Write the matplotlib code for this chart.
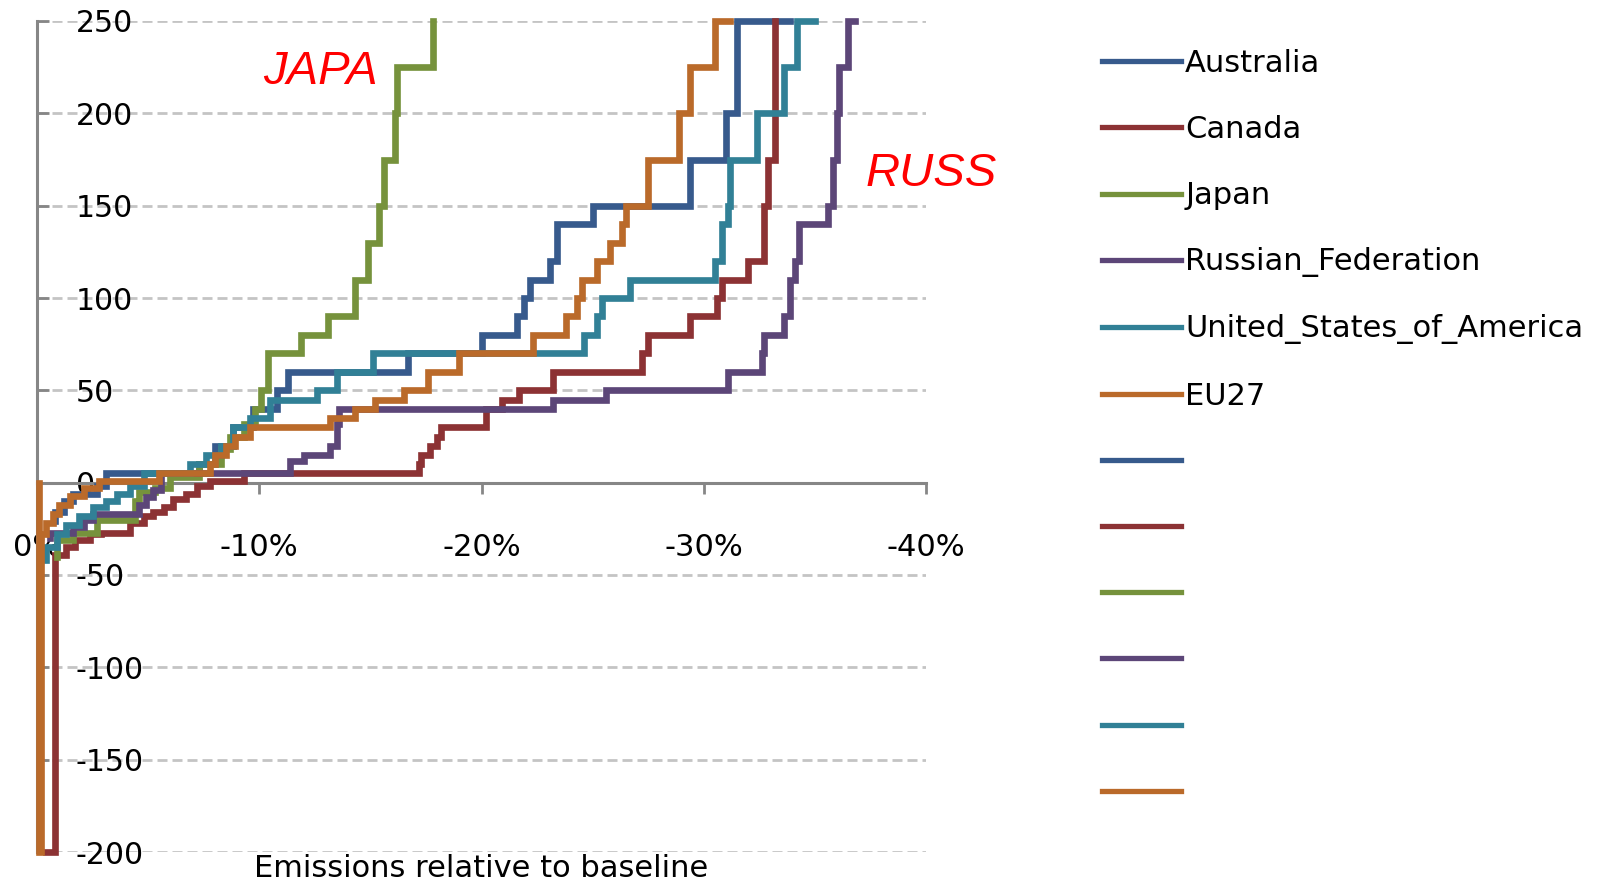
import matplotlib
matplotlib.use('Agg')
import matplotlib.pyplot as plt
from matplotlib.lines import Line2D

plt.rcParams['axes.unicode_minus'] = False
plt.rcParams['font.family'] = ['DejaVu Sans']

countries = ['Australia', 'Canada', 'Japan', 'Russian_Federation',
             'United_States_of_America', 'EU27']
colors = ['#375A8C', '#8C3234', '#76923C', '#5C4678', '#318096', '#BA6A2A']

# emissions relative to baseline (%) vs. price level, one list per country
aus_x = [-0.8, -1.2, -1.6, -2.7, -3.1, -7.3, -8.0, -8.8, -9.7, -10.8, -11.3, -16.7, -20.0,
         -21.6, -21.9, -22.2, -23.1, -23.4, -25.0, -29.4, -31.0, -31.5, -33.9]
aus_y = [-21, -16, -10, -6, -2, 5, 10, 20, 30, 40, 50, 60, 70,
         80, 90, 100, 110, 120, 140, 150, 175, 200, 250]

can_x = [-0.4, -0.8, -1.3, -1.7, -2.4, -2.9, -4.2, -4.8, -5.2, -5.7, -6.1, -6.7, -7.2, -7.8,
         -9.3, -17.2, -17.3, -17.7, -18.0, -18.2, -20.2, -20.9, -21.7, -23.2, -27.2, -27.5,
         -29.4, -30.6, -30.8, -32.0, -32.7, -32.9, -33.2, -33.2]
can_y = [-200, -200, -39, -35, -31, -28, -27, -22, -18, -16, -13, -9, -6, -2,
         1, 5, 10, 15, 20, 25, 30, 40, 45, 50, 60, 70,
         80, 90, 100, 110, 120, 150, 175, 250]

jap_x = [-0.9, -1.6, -2.7, -4.4, -4.6, -5.3, -6.0, -7.3, -8.3, -8.7, -9.3, -9.8, -10.1,
         -10.4, -11.9, -13.1, -14.3, -14.9, -15.4, -15.6, -16.1, -16.2, -17.8, -17.8]
jap_y = [-40, -31, -27, -20, -10, -5, -3, 3, 10, 18, 25, 32, 40,
         50, 70, 80, 90, 110, 130, 150, 175, 200, 225, 250]

rus_x = [-0.6, -1.6, -2.1, -2.5, -4.6, -4.9, -5.2, -5.6, -11.4, -12.0, -13.2, -13.5, -13.6,
         -23.2, -25.6, -31.1, -32.6, -32.7, -33.6, -33.9, -34.1, -34.3, -35.6, -35.8, -36.0,
         -36.1, -36.5, -36.8]
rus_y = [-30, -27, -24, -20, -17, -12, -8, -4, 5, 12, 15, 20, 32,
         40, 45, 50, 60, 70, 80, 90, 110, 120, 140, 150, 175,
         200, 225, 250]

usa_x = [-0.4, -0.9, -1.3, -1.9, -2.5, -3.1, -3.6, -4.2, -4.8, -6.9, -7.6, -8.3, -8.8, -9.6,
         -10.5, -12.6, -13.5, -15.1, -24.6, -25.2, -25.4, -26.7, -30.5, -30.8, -31.1, -31.2,
         -32.4, -33.6, -34.2, -35.0]
usa_y = [-42, -35, -28, -23, -18, -13, -10, -6, -2, 5, 10, 15, 20, 30,
         35, 45, 50, 60, 70, 80, 90, 100, 110, 120, 140, 150,
         175, 200, 225, 250]

eu_x = [-0.1, -0.2, -0.4, -0.7, -1.0, -1.5, -2.1, -2.8, -5.5, -7.8, -8.0, -8.5, -8.9, -9.6,
        -13.2, -14.3, -15.2, -16.5, -17.6, -19.0, -22.3, -23.8, -24.3, -24.5, -25.2, -25.8,
        -26.3, -26.5, -27.5, -28.9, -29.4, -30.5, -31.2]
eu_y = [0, -200, -28, -22, -17, -12, -7, -3, 1, 5, 10, 15, 20, 25,
        30, 35, 40, 45, 50, 60, 70, 80, 90, 100, 110, 120,
        130, 140, 150, 175, 200, 225, 250]

series = [(aus_x, aus_y), (can_x, can_y), (jap_x, jap_y),
          (rus_x, rus_y), (usa_x, usa_y), (eu_x, eu_y)]

x_ticks = [0, -10, -20, -30, -40]
y_ticks = [-200, -150, -100, -50, 0, 50, 100, 150, 200, 250]

W, H = 1602, 881
fig = plt.figure(figsize=(W / 100, H / 100), dpi=100)
ax = fig.add_axes([37 / W, 1 - 852 / H, 889 / W, 831 / H])

for (xs, ys), c, name in zip(series, colors, countries):
    ax.step(xs, ys, where='pre', color=c, lw=4.8, clip_on=False, zorder=3,
            solid_joinstyle='miter', label=name)

ax.set_xlim(0, -40)
ax.set_ylim(-200, 250)
ax.set_xticks(x_ticks)
ax.set_xticklabels([f'{v}%' for v in x_ticks])
ax.set_yticks(y_ticks)
ax.set_yticklabels([str(v) for v in y_ticks], ha='left')

grey = '#868686'
ax.yaxis.grid(True, color='#C4C4C4', linestyle=(0, (3.6, 1.8)), linewidth=2)
ax.set_axisbelow(True)
for s in ['top', 'right']:
    ax.spines[s].set_visible(False)
ax.spines['bottom'].set_position(('data', 0))
ax.spines['bottom'].set_color(grey)
ax.spines['left'].set_color(grey)
ax.spines['bottom'].set_linewidth(2.2)
ax.spines['left'].set_linewidth(2.2)
ax.tick_params(axis='x', direction='out', length=8, width=2, color=grey,
               pad=28, labelsize=22)
ax.tick_params(axis='y', direction='in', length=8.5, width=2, color=grey,
               pad=-28, labelsize=21.5)

# legend: six named entries followed by six unlabeled ones
leg_handles = [Line2D([], [], color=c, lw=3.8) for c in colors] * 2
leg_labels = countries + [''] * 6
fig.legend(leg_handles, leg_labels, loc='upper left',
           bbox_to_anchor=(1102 / W, 1 - 49 / H), frameon=False,
           fontsize=22, handlelength=2.6, handletextpad=0.12,
           labelspacing=1.215, borderpad=0, borderaxespad=0)

fig.text(263 / W, 1 - 84 / H, 'JAPA', color='red', fontsize=34, fontstyle='italic',
         family='Liberation Sans', va='baseline')
fig.text(866 / W, 1 - 186 / H, 'RUSS', color='red', fontsize=34, fontstyle='italic',
         family='Liberation Sans', va='baseline')

fig.text(481 / W, 1 - 854 / H, 'Emissions relative to baseline', ha='center',
         va='top', fontsize=22)

fig.savefig('out.png', dpi=100)
